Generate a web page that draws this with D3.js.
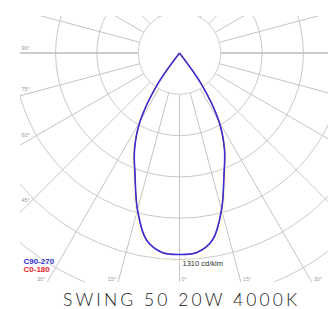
<!DOCTYPE html>
<html>
<head>
<meta charset="utf-8">
<title>SWING 50 20W 4000K</title>
<style>
  html, body { margin: 0; padding: 0; background: #fff; }
  svg { display: block; }
</style>
</head>
<body>
<div id="chart"></div>
<script src="https://d3js.org/d3.v7.min.js"></script>
<script>
// gamma angles (deg from nadir) and intensities in cd/klm
const gammaAngles = [0, 5, 10, 15, 20, 25, 30, 35, 40];
const c90_270 = [1278, 1270, 1205, 1030, 825, 675, 500, 250, 0];
const c0_180 = [1278, 1270, 1205, 1030, 825, 675, 500, 250, 0];
const gridAngles = d3.range(0, 360, 15);
const angleLabels = [90, 75, 60, 45, 30, 15, 0, -15, -30];
const maxValue = 1310;
const unitLabel = '1310 cd/klm';
const title = 'SWING 50 20W 4000K';

const W = 328, H = 309;
const cx = 179.5, cy = 53;
const box = { left: 20, top: 16, right: 328, bottom: 282 };
const ringStep = 41.3;

const svg = d3.select('#chart').append('svg')
  .attr('width', W).attr('height', H);

svg.append('defs').append('clipPath').attr('id', 'plotClip')
  .append('rect')
  .attr('x', box.left).attr('y', box.top)
  .attr('width', box.right - box.left).attr('height', box.bottom - box.top);

// radius scale: 5th ring = maxValue
const r = d3.scaleLinear().domain([0, maxValue]).range([0, ringStep * 5]);

const g = svg.append('g').attr('clip-path', 'url(#plotClip)');
const plot = g.append('g').attr('transform', `translate(${cx},${cy})`);

// rings
plot.selectAll('circle.ring')
  .data(d3.range(2, 8))
  .join('circle')
  .attr('class', 'ring')
  .attr('r', k => k * ringStep)
  .attr('fill', 'none')
  .attr('stroke', '#c9c9c9')
  .attr('stroke-width', 1);

// spokes
const rad = a => a * Math.PI / 180;
plot.selectAll('line.spoke')
  .data(gridAngles)
  .join('line')
  .attr('class', 'spoke')
  .attr('x1', a => ringStep * Math.sin(rad(a)))
  .attr('y1', a => ringStep * Math.cos(rad(a)))
  .attr('x2', a => 400 * Math.sin(rad(a)))
  .attr('y2', a => 400 * Math.cos(rad(a)))
  .attr('stroke', a => (a === 90 || a === 270) ? '#bdbdbd' : '#c4c4c4')
  .attr('stroke-width', a => (a === 90 || a === 270) ? 1.4 : 1);

// inner ring
plot.append('circle')
  .attr('r', ringStep)
  .attr('fill', '#fff')
  .attr('stroke', '#cfcfcf')
  .attr('stroke-width', 1);

// curves (symmetric, mirrored around nadir)
function pts(vals) {
  const left = gammaAngles.map((a, i) => [-a, vals[i]]).reverse();
  const right = gammaAngles.slice(1).map((a, i) => [a, vals[i + 1]]);
  return left.concat(right);
}
const radial = d3.lineRadial()
  .angle(d => Math.PI - rad(d[0]))
  .radius(d => r(d[1]))
  .curve(d3.curveCatmullRom.alpha(0.5));

plot.append('path')
  .attr('d', radial(pts(c0_180).map(d => [d[0], d[1] * 1.03])))
  .attr('fill', 'none').attr('stroke', '#fbf6d2').attr('stroke-width', 1);
plot.append('path')
  .attr('d', radial(pts(c0_180)))
  .attr('fill', 'none').attr('stroke', '#e03030').attr('stroke-width', 1);
plot.append('path')
  .attr('d', radial(pts(c90_270)))
  .attr('fill', 'none').attr('stroke', '#3a2fd0').attr('stroke-width', 1.6);

// angle labels
angleLabels.forEach(a => {
  const s = Math.sin(rad(Math.abs(a))), c = Math.cos(rad(Math.abs(a)));
  const dir = a > 0 ? -1 : 1;
  const tLeft = s > 0 ? (cx - box.left) / s : Infinity;
  const tBottom = c > 0 ? (box.bottom - cy) / c : Infinity;
  const t = {};
  if (tLeft < tBottom) {
    const hy = cy + tLeft * c;
    t.x = box.left + 1.5;
    t.y = hy - 3 - (hy - cy) * 0.05;
    t.anchor = 'start';
  } else {
    const hx = cx + dir * tBottom * s;
    t.y = box.bottom - 1;
    t.x = a > 0 ? hx - 2 : hx + 2;
    t.anchor = a > 0 ? 'end' : 'start';
  }
  svg.append('text')
    .attr('x', t.x).attr('y', t.y)
    .attr('text-anchor', t.anchor)
    .attr('font-family', 'Liberation Sans, Arial, sans-serif')
    .attr('font-size', 5.5)
    .attr('fill', '#9a9a9a')
    .text(Math.abs(a) + '°');
});

// unit label
svg.append('text')
  .attr('x', cx + 3).attr('y', cy + r(maxValue) + 6.5)
  .attr('font-family', 'Liberation Sans, Arial, sans-serif')
  .attr('font-size', 7.5)
  .attr('fill', '#333')
  .text(unitLabel);

// legend
const legend = [
  { name: 'C90-270', color: '#2f2fc8' },
  { name: 'C0-180', color: '#e02828' }
];
svg.selectAll('text.legend')
  .data(legend)
  .join('text')
  .attr('class', 'legend')
  .attr('x', 23.5)
  .attr('y', (d, i) => 263.5 + i * 8)
  .attr('font-family', 'Liberation Sans, Arial, sans-serif')
  .attr('font-weight', 'bold')
  .attr('font-size', 8)
  .attr('fill', d => d.color)
  .text(d => d.name);

// title
svg.append('text')
  .attr('x', 180).attr('y', 306)
  .attr('text-anchor', 'middle')
  .attr('font-family', 'Lato, Open Sans, sans-serif')
  .attr('font-weight', 300)
  .attr('font-size', 17.5)
  .attr('fill', '#222')
  .attr('textLength', 234)
  .attr('lengthAdjust', 'spacing')
  .text(title);
</script>
</body>
</html>
